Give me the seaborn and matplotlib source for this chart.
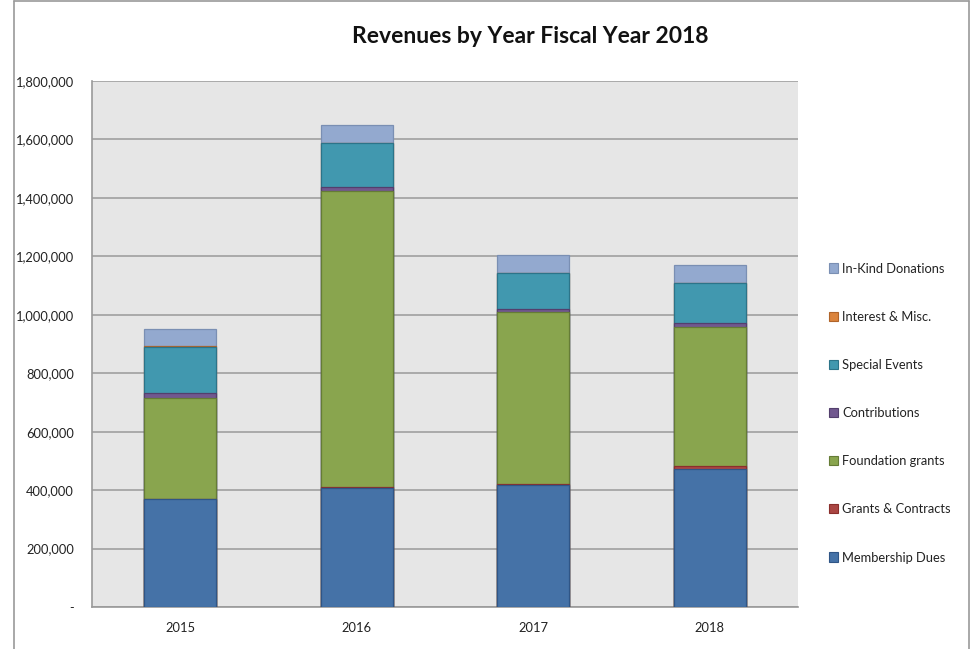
import numpy as np
import pandas as pd
import matplotlib
matplotlib.use('Agg')
import matplotlib.pyplot as plt
import matplotlib.ticker as mticker
from matplotlib.lines import Line2D
from matplotlib.patches import Patch
import seaborn as sns

years = ['2015', '2016', '2017', '2018']

# revenue by source, bottom to top of the stack
membership_dues = [368000, 408000, 417000, 472000]
grants_contracts = [0, 2000, 5000, 10000]
foundation_grants = [347000, 1015000, 588000, 477000]
contributions = [18000, 12000, 10000, 14000]
special_events = [158000, 151000, 123000, 136000]
interest_misc = [500, 1000, 500, 500]
in_kind = [59000, 60000, 62000, 60000]

series = ['Membership Dues', 'Grants & Contracts', 'Foundation grants',
          'Contributions', 'Special Events', 'Interest & Misc.', 'In-Kind Donations']
values = [membership_dues, grants_contracts, foundation_grants,
          contributions, special_events, interest_misc, in_kind]
colors = ['#4572A7', '#AA4643', '#89A54E', '#71588F', '#4198AF', '#DB843D', '#93A9CF']
edges = ['#2f5586', '#8a2f2c', '#657c36', '#533f6d', '#2c7489', '#b0642a', '#7a8fb3']

df = pd.DataFrame(values, index=series, columns=years).T
cum = df.cumsum(axis=1)

sns.set_style('white')
plt.rcParams['font.family'] = ['Lato', 'DejaVu Sans']

fig = plt.figure(figsize=(9.75, 6.49), dpi=100)
ax = fig.add_axes([0.0944, 0.0647, 0.7241, 0.8105])
ax.set_facecolor('#e6e6e6')

# draw cumulative totals from top series down so each layer covers the one above
for name, col, ec in reversed(list(zip(series, colors, edges))):
    d = pd.DataFrame({'year': years, 'val': cum[name].values})
    sns.barplot(data=d, x='year', y='val', color=col, saturation=1,
                width=0.41, edgecolor=ec, linewidth=0.9, ax=ax, zorder=3)

ax.set_xlim(-0.5, 3.5)
ax.set_ylim(0, 1800000)
ax.yaxis.set_major_locator(mticker.MultipleLocator(200000))
ax.yaxis.set_major_formatter(mticker.FuncFormatter(
    lambda v, p: '-' if v == 0 else '{:,.0f}'.format(v)))
ax.grid(axis='y', color='#a0a0a0', linewidth=1.2, zorder=0)
ax.set_axisbelow(True)
ax.set_xlabel('')
ax.set_ylabel('')

for s in ['top', 'right']:
    ax.spines[s].set_visible(False)
for s in ['left', 'bottom']:
    ax.spines[s].set_color('#9a9a9a')
    ax.spines[s].set_linewidth(1.2)

ax.tick_params(axis='y', direction='out', length=5, width=1, color='#9a9a9a',
               labelsize=9.3, labelcolor='#222222', pad=8)
ax.set_xticks(range(4))
ax.set_xticklabels(years)
ax.set_xticks(np.arange(-0.5, 4, 1), minor=True)
ax.tick_params(axis='x', which='major', length=0, labelsize=9.3,
               labelcolor='#222222', pad=11)
ax.tick_params(axis='x', which='minor', direction='out', length=5, width=1,
               color='#9a9a9a')

fig.text(0.5436, 0.9445, 'Revenues by Year Fiscal Year 2018', ha='center',
         va='center', fontsize=16.5, fontweight='bold', color='#111111')

handles = [Patch(facecolor=c, edgecolor=e, linewidth=0.8) for c, e in zip(colors, edges)]
leg = fig.legend(handles[::-1], series[::-1], loc='center left',
                 bbox_to_anchor=(0.838, 0.3636), frameon=False, fontsize=9.3,
                 handlelength=0.7, handleheight=0.7, handletextpad=0.35,
                 labelspacing=2.8)
for t in leg.get_texts():
    t.set_color('#222222')

# outer chart border
fig.add_artist(Line2D([14 / 975, 14 / 975], [0, 1 - 1 / 649], color='#9a9a9a',
                      linewidth=1.2, transform=fig.transFigure))
fig.add_artist(Line2D([969 / 975, 969 / 975], [0, 1 - 1 / 649], color='#9a9a9a',
                      linewidth=1.2, transform=fig.transFigure))
fig.add_artist(Line2D([14 / 975, 969 / 975], [1 - 1 / 649, 1 - 1 / 649],
                      color='#9a9a9a', linewidth=1.2, transform=fig.transFigure))

fig.savefig('out.png', dpi=100)
